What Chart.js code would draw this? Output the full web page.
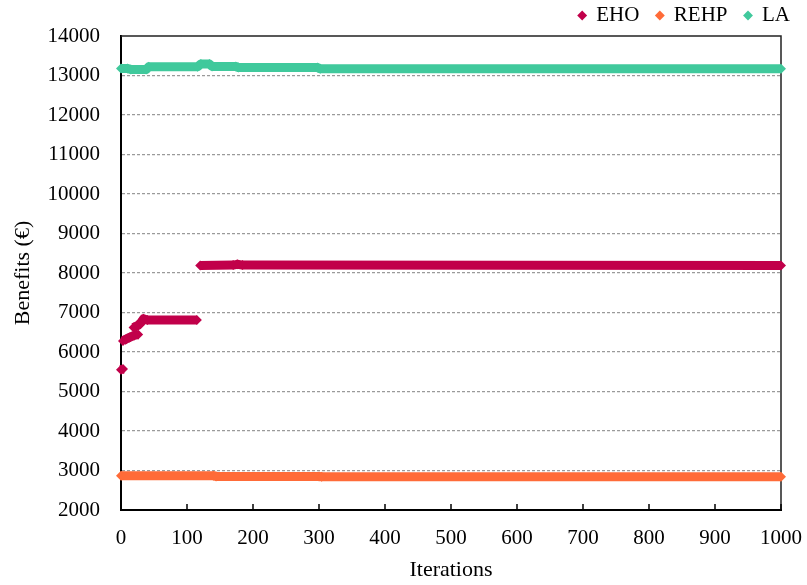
<!DOCTYPE html>
<html lang="en">
<head>
<meta charset="UTF-8">
<title>Benefits vs Iterations</title>
<script src="https://cdn.jsdelivr.net/npm/chart.js"></script>
<style>
  html, body { margin: 0; padding: 0; background: #fff; }
  #wrap { width: 807px; height: 585px; }
</style>
</head>
<body>
<div id="wrap"><canvas id="myChart"></canvas></div>
<script>
// breakpoints, null splits a series into separate runs
const ehoX = [0, 3, null, 3, 8, 13, 20, 26, null, 19, 26, 31, 34, 40, 115, null, 120, 170, 176, 184, 1000];
const ehoY = [5550, 5570, null, 6280, 6330, 6370, 6420, 6440, null, 6620, 6680, 6760, 6840, 6810, 6810, null, 8190, 8200, 8220, 8200, 8190];

const rehpX = [0, 140, 144, 300, 304, 1000];
const rehpY = [2870, 2870, 2850, 2850, 2840, 2840];

const laX = [0, 10, 15, 38, 42, 116, 121, 134, 138, 174, 178, 298, 302, 1000];
const laY = [13180, 13180, 13150, 13150, 13220, 13220, 13290, 13290, 13230, 13230, 13200, 13200, 13170, 13170];

const seriesNames = ['EHO', 'REHP', 'LA'];
const seriesColors = ['#C1004A', '#FF6B38', '#40C99C'];

Chart.defaults.font.family = "'Liberation Serif', 'Times New Roman', serif";
Chart.defaults.color = '#000';

function toPoints(xs, ys) {
    return xs.map((x, i) => ({x: x, y: ys[i]}));
}

function makeSet(i, xs, ys) {
    const c = seriesColors[i];
    return {
        label: seriesNames[i],
        data: toPoints(xs, ys),
        showLine: true,
        spanGaps: false,
        tension: 0,
        borderColor: c,
        backgroundColor: c,
        borderWidth: 9,
        borderJoinStyle: 'round',
        pointStyle: 'rectRot',
        pointRadius: 5,
        pointHoverRadius: 5,
        pointBackgroundColor: c,
        pointBorderWidth: 0,
        clip: false
    };
}

// top/right frame and the small inward ticks on the x axis
const framePlugin = {
    id: 'frame',
    beforeDatasetsDraw(chart) {
        const {ctx, chartArea: a, scales: {x}} = chart;
        ctx.save();
        ctx.strokeStyle = '#222';
        ctx.lineWidth = 1.5;
        ctx.beginPath();
        ctx.moveTo(a.left, a.top);
        ctx.lineTo(a.right, a.top);
        ctx.lineTo(a.right, a.bottom);
        ctx.stroke();
        ctx.strokeStyle = '#000';
        x.ticks.forEach(t => {
            const px = x.getPixelForValue(t.value);
            ctx.beginPath();
            ctx.moveTo(px, a.bottom);
            ctx.lineTo(px, a.bottom - 6);
            ctx.stroke();
        });
        ctx.restore();
    }
};

const ctx = document.getElementById('myChart').getContext('2d');
new Chart(ctx, {
    type: 'scatter',
    data: {
        datasets: [
            makeSet(0, ehoX, ehoY),
            makeSet(1, rehpX, rehpY),
            makeSet(2, laX, laY)
        ]
    },
    options: {
        responsive: true,
        maintainAspectRatio: false,
        animation: false,
        layout: { padding: { top: -12, right: 0, left: 0, bottom: 0 } },
        plugins: {
            legend: {
                position: 'top',
                align: 'end',
                labels: {
                    usePointStyle: true,
                    boxWidth: 7,
                    boxHeight: 7,
                    padding: 17,
                    font: { size: 21 },
                    color: '#000'
                }
            },
            tooltip: { enabled: false }
        },
        scales: {
            x: {
                type: 'linear',
                min: 0,
                max: 1000,
                ticks: { stepSize: 100, padding: 16, font: { size: 21 }, maxRotation: 0, callback: v => String(v) },
                grid: { display: false, drawTicks: false },
                border: { display: true, color: '#000', width: 2 },
                title: { display: true, text: 'Iterations', font: { size: 22 }, padding: { top: 0, bottom: 2 } },
                afterFit(s) { s.height = 75; s.paddingRight = 26; }
            },
            y: {
                min: 2000,
                max: 14000,
                ticks: { stepSize: 1000, padding: 21, font: { size: 21 }, callback: v => String(v) },
                grid: {
                    drawTicks: false,
                    lineWidth: 1.2,
                    color: c => (c.tick && (c.tick.value === 2000 || c.tick.value === 14000)) ? 'rgba(0,0,0,0)' : '#9a9a9a'
                },
                border: { display: true, color: '#000', width: 2, dash: [3, 2] },
                title: { display: true, text: 'Benefits (€)', font: { size: 22 }, padding: { top: 10, bottom: 0 } },
                afterFit(s) { s.width = 121; }
            }
        }
    },
    plugins: [framePlugin]
});
</script>
</body>
</html>
